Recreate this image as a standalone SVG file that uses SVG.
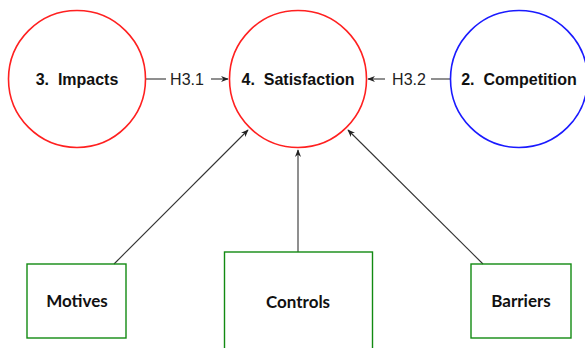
<svg xmlns="http://www.w3.org/2000/svg" width="585" height="348" viewBox="0 0 585 348">
  <style>
    .circ { fill: none; stroke-width: 1.6; }
    .red { stroke: #ff2020; }
    .blue { stroke: #1a1aff; }
    .box { fill: none; stroke: #128a12; stroke-width: 1.4; }
    .ctitle { font-family: "Liberation Sans", Arial, sans-serif; font-weight: bold; font-size: 16px; fill: #111; text-anchor: middle; }
    .btitle { font-family: Lato, "Liberation Sans", sans-serif; font-weight: bold; font-size: 17px; fill: #111; text-anchor: middle; }
    .lbl { font-family: "Liberation Sans", Arial, sans-serif; font-size: 16px; fill: #222; text-anchor: middle; }
    .edge { stroke: #333; stroke-width: 1.1; fill: none; }
  </style>
  <defs>
    <marker id="arr" viewBox="0 0 10 10" refX="9" refY="5" markerWidth="7" markerHeight="7" orient="auto">
      <path d="M0,1 L10,5 L0,9 L3,5 Z" fill="#222"/>
    </marker>
  </defs>
  <rect width="585" height="348" fill="#fff"/>

  <g id="connectors">
    <line class="edge" x1="146" y1="79" x2="166" y2="79"/>
    <text class="lbl" x="187" y="85">H3.1</text>
    <line class="edge" x1="211" y1="79" x2="228" y2="79" marker-end="url(#arr)"/>

    <line class="edge" x1="450" y1="79" x2="431" y2="79"/>
    <text class="lbl" x="409" y="85">H3.2</text>
    <line class="edge" x1="385" y1="79" x2="368" y2="79" marker-end="url(#arr)"/>

    <line class="edge" x1="114" y1="264" x2="248" y2="130" marker-end="url(#arr)"/>
    <line class="edge" x1="298" y1="252" x2="298" y2="150" marker-end="url(#arr)"/>
    <line class="edge" x1="483" y1="264" x2="348" y2="130" marker-end="url(#arr)"/>
  </g>

  <g id="impacts">
    <circle class="circ red" cx="77" cy="79" r="68.5"/>
    <text class="ctitle" x="77" y="85" xml:space="preserve">3.  Impacts</text>
  </g>
  <g id="satisfaction">
    <circle class="circ red" cx="298" cy="79" r="68.5"/>
    <text class="ctitle" x="298" y="85" xml:space="preserve">4.  Satisfaction</text>
  </g>
  <g id="competition">
    <circle class="circ blue" cx="519" cy="79" r="68.5"/>
    <text class="ctitle" x="519" y="85" xml:space="preserve">2.  Competition</text>
  </g>

  <g id="motives">
    <rect class="box" x="27" y="264" width="99" height="74"/>
    <text class="btitle" x="77" y="307">Motives</text>
  </g>
  <g id="controls">
    <rect class="box" x="224.5" y="252" width="148" height="100"/>
    <text class="btitle" x="298" y="308">Controls</text>
  </g>
  <g id="barriers">
    <rect class="box" x="471" y="264" width="100" height="74"/>
    <text class="btitle" x="521" y="307">Barriers</text>
  </g>
</svg>
